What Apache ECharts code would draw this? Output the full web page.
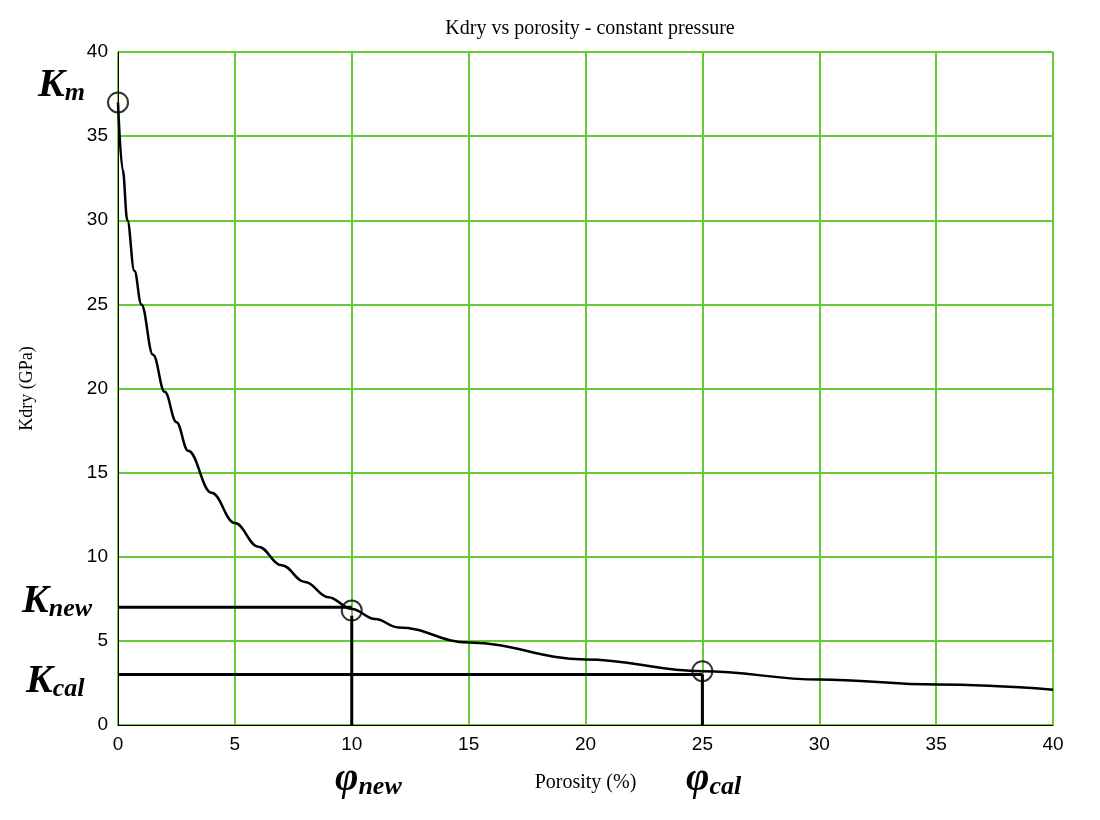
<!DOCTYPE html>
<html><head><meta charset="utf-8">
<script src="https://cdn.jsdelivr.net/npm/echarts@6/dist/echarts.min.js"></script>
<style>body{margin:0;background:#fff}#c{width:1100px;height:820px}</style>
</head><body><div id="c"></div>
<script>
// curve
var porosity = [0, 0.2, 0.4, 0.7, 1, 1.5, 2, 2.5, 3, 4, 5, 6, 7, 8, 9, 10, 11, 12, 15, 20, 25, 30, 35, 40];
var kdry = [37, 33, 30, 27, 25, 22, 19.8, 18, 16.3, 13.8, 12, 10.6, 9.5, 8.5, 7.6, 6.9, 6.3, 5.8, 4.9, 3.9, 3.2, 2.7, 2.4, 2.1];
var circles = [[0, 37], [10, 6.8], [25, 3.2]];
var kNew = 7, kCal = 3, phiNew = 10, phiCal = 25;

var chart = echarts.init(document.getElementById('c'));
var serif = 'Liberation Serif';
var curve = porosity.map(function (p, i) { return [p, kdry[i]]; });
var thick = {color: '#000', width: 3};
function big(t, s) {
    return {rich: {a: {fontFamily: serif, fontStyle: 'italic', fontSize: 40, fontWeight: 'bold'},
        b: {fontFamily: serif, fontStyle: 'italic', fontSize: 26, fontWeight: 'bold', verticalAlign: 'bottom'}},
        text: '{a|' + t + '}{b|' + s + '}'};
}
chart.setOption({
    animation: false,
    title: {text: 'Kdry vs porosity - constant pressure', left: 585, top: 14, textAlign: 'center',
        textStyle: {fontFamily: serif, fontWeight: 'normal', fontSize: 20, color: '#000'}},
    grid: {left: 118, right: 47, top: 52, bottom: 95, show: true, borderColor: '#000', borderWidth: 1},
    xAxis: {type: 'value', min: 0, max: 40, interval: 5,
        name: 'Porosity (%)', nameLocation: 'middle', nameGap: 48,
        nameTextStyle: {fontFamily: serif, fontSize: 20, color: '#000'},
        axisLine: {lineStyle: {color: '#000'}}, axisTick: {show: false},
        axisLabel: {fontFamily: 'Liberation Sans', fontSize: 19, color: '#000', margin: 10},
        splitLine: {lineStyle: {color: '#66cc33', width: 2}}},
    yAxis: {type: 'value', min: 0, max: 40, interval: 5,
        name: 'Kdry (GPa)', nameLocation: 'middle', nameGap: 82,
        nameTextStyle: {fontFamily: serif, fontSize: 18, color: '#000'},
        axisLine: {lineStyle: {color: '#000'}}, axisTick: {show: false},
        axisLabel: {fontFamily: 'Liberation Sans', fontSize: 19, color: '#000', margin: 10},
        splitLine: {lineStyle: {color: '#66cc33', width: 2}}},
    series: [
        {type: 'line', data: curve, smooth: 0.4, smoothMonotone: 'x', symbol: 'none', lineStyle: {color: '#000', width: 2.5}, z: 3},
        {type: 'line', data: [[0, kNew], [phiNew, kNew]], symbol: 'none', lineStyle: thick},
        {type: 'line', data: [[0, kCal], [phiCal, kCal]], symbol: 'none', lineStyle: thick},
        {type: 'line', data: [[phiNew, 0], [phiNew, 6.5]], symbol: 'none', lineStyle: thick},
        {type: 'line', data: [[phiCal, 0], [phiCal, 3]], symbol: 'none', lineStyle: thick},
        {type: 'scatter', data: circles, symbol: 'circle', symbolSize: 20,
            itemStyle: {color: 'rgba(255,255,255,0)', borderColor: '#000', borderWidth: 2}, z: 5}
    ],
    graphic: [
        {type: 'text', left: 38, top: 66, style: big('K', 'm')},
        {type: 'text', left: 22, top: 582, style: big('K', 'new')},
        {type: 'text', left: 26, top: 662, style: big('K', 'cal')},
        {type: 'text', left: 335, top: 760, style: big('φ', 'new')},
        {type: 'text', left: 686, top: 760, style: big('φ', 'cal')}
    ]
});
</script></body></html>
